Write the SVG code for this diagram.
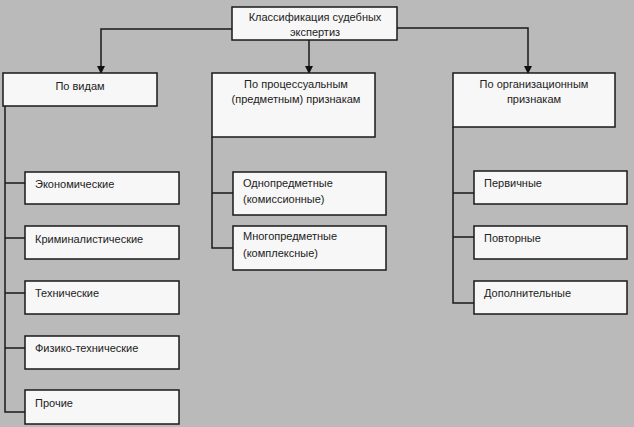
<svg xmlns="http://www.w3.org/2000/svg" width="634" height="427" viewBox="0 0 634 427">
<defs>
<marker id="arr" markerWidth="8" markerHeight="8" refX="7" refY="4" orient="auto" markerUnits="userSpaceOnUse">
<path d="M0,0 L8,4 L0,8 Z" fill="#111"/>
</marker>
<style>
.box{fill:#f7f7f7;stroke:#1a1a1a;stroke-width:1.5}
.ln{fill:none;stroke:#1a1a1a;stroke-width:1.5}
text{font-family:"Liberation Sans","DejaVu Sans",sans-serif;font-size:11px;fill:#222}
.c{text-anchor:middle}
</style>
</defs>
<rect width="634" height="427" fill="#bababa"/>
<g id="connectors">
<path class="ln" d="M232,29 H101 V73" marker-end="url(#arr)"/>
<path class="ln" d="M309,40 V73" marker-end="url(#arr)"/>
<path class="ln" d="M397,28 H528 V73" marker-end="url(#arr)"/>
<path class="ln" d="M5,106 V412 H25 M5,183 H25 M5,238 H25 M5,293 H25 M5,348 H25"/>
<path class="ln" d="M212,137 V248 H233 M212,193 H233"/>
<path class="ln" d="M453,127 V303 H474 M453,193 H474 M453,237 H474"/>
</g>
<g id="root"><rect class="box" x="232" y="7" width="165" height="33"/>
<text class="c" x="315" y="21">Классификация судебных</text><text class="c" x="315" y="36">экспертиз</text></g>
<g id="vidy"><rect class="box" x="3" y="73" width="154" height="33"/><text class="c" x="80" y="90">По видам</text></g>
<g id="proc"><rect class="box" x="212" y="73" width="163" height="64"/>
<text class="c" x="296" y="88">По процессуальным</text><text class="c" x="296" y="103">(предметным) признакам</text></g>
<g id="org"><rect class="box" x="453" y="73" width="162" height="54"/>
<text class="c" x="534" y="88">По организационным</text><text class="c" x="534" y="103">признакам</text></g>
<g id="econ"><rect class="box" x="25" y="172" width="154" height="32"/><text x="35" y="188">Экономические</text></g>
<g id="krim"><rect class="box" x="25" y="226" width="154" height="33"/><text x="35" y="243">Криминалистические</text></g>
<g id="tech"><rect class="box" x="25" y="281" width="154" height="33"/><text x="35" y="297">Технические</text></g>
<g id="fiz"><rect class="box" x="25" y="336" width="154" height="33"/><text x="35" y="352">Физико-технические</text></g>
<g id="proch"><rect class="box" x="25" y="390" width="154" height="34"/><text x="35" y="407">Прочие</text></g>
<g id="odno"><rect class="box" x="233" y="172" width="153" height="43"/>
<text x="243" y="187">Однопредметные</text><text x="243" y="203">(комиссионные)</text></g>
<g id="mnogo"><rect class="box" x="233" y="226" width="153" height="44"/>
<text x="243" y="240">Многопредметные</text><text x="243" y="257">(комплексные)</text></g>
<g id="perv"><rect class="box" x="474" y="171" width="153" height="33"/><text x="484" y="187">Первичные</text></g>
<g id="povt"><rect class="box" x="474" y="226" width="153" height="33"/><text x="484" y="242">Повторные</text></g>
<g id="dop"><rect class="box" x="474" y="281" width="153" height="33"/><text x="484" y="297">Дополнительные</text></g>
</svg>
